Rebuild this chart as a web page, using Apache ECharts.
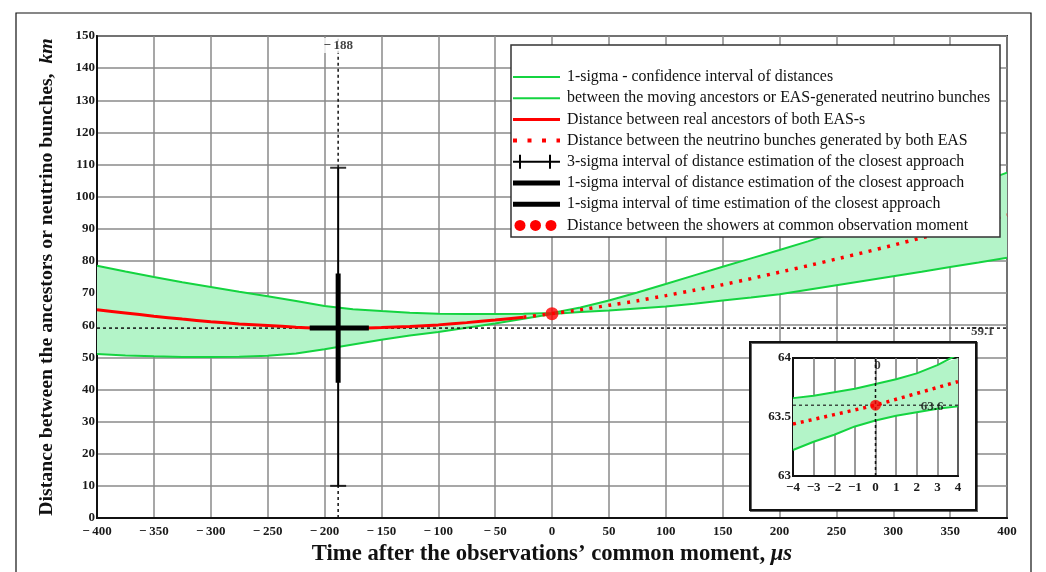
<!DOCTYPE html>
<html>
<head>
<meta charset="utf-8">
<script src="https://cdn.jsdelivr.net/npm/echarts@6/dist/echarts.min.js"></script>
<style>
html,body{margin:0;padding:0;background:#fff;}
#chart{width:1046px;height:572px;}
</style>
</head>
<body>
<div id="chart"></div>
<script>
// ---------------- DATA ----------------
const tVals = [-400,-375,-350,-325,-300,-275,-250,-225,-200,-175,-150,-125,-100,-75,-50,-25,0,25,50,75,100,125,150,175,200,225,250,275,300,325,350,375,400];
const upperVals = [78.5,76.7,75.0,73.4,71.9,70.4,69.0,67.5,66.0,65.0,64.4,63.9,63.6,63.5,63.5,63.6,63.8,65.5,67.7,70.2,72.8,75.5,78.2,80.8,83.4,86.1,89.0,91.9,94.8,97.9,101.0,104.2,107.5];
const lowerVals = [51.0,50.6,50.3,50.1,50.1,50.2,50.5,51.2,52.5,54.0,55.5,56.8,57.9,59.2,60.5,62.0,63.47,64.1,64.6,65.2,65.8,66.7,67.7,68.6,69.6,71.0,72.4,73.8,75.2,76.6,78.1,79.5,81.0];
const redVals = [64.8,63.8,62.8,61.9,61.1,60.4,59.9,59.4,59.1,59.1,59.3,59.6,60.1,60.8,61.6,62.5,63.6,64.8,66.2,67.6,69.2,70.9,72.6,74.5,76.5,78.5,80.6,82.7,84.9,87.2,89.5,91.9,94.3];
const solidEndT = -25;            // real-ancestor (solid) part ends here, dotted part starts

const closestT = -188;            // time of closest approach
const closestD = 59.1;            // closest distance
const sigma3D = [10, 109];        // 3-sigma distance interval
const sigma1D = [42.1, 76.1];     // 1-sigma distance interval
const sigma1T = [-213, -161];     // 1-sigma time interval
const commonPoint = [0, 63.6];    // distance at common observation moment
const closestLabelT = 380;        // where the 59.1 label sits

const insetT = [-4,-3,-2,-1,0,1,2,3,4];
const insetUpper = [63.66,63.68,63.71,63.74,63.78,63.82,63.87,63.94,64.03];
const insetLower = [63.22,63.29,63.35,63.42,63.47,63.51,63.54,63.57,63.59];
const insetRed = [63.44,63.48,63.52,63.56,63.60,63.65,63.70,63.75,63.80];
const insetLabelT = 2.75;

const mainXTicks = {min:-400, max:400, interval:50};
const mainYTicks = {min:0, max:150, interval:10};
const insetXTicks = {min:-4, max:4, interval:1};
const insetYTicks = {min:63, max:64, interval:0.5};

const legendLabels = [
  '1-sigma - confidence interval of distances',
  'between the moving ancestors or EAS-generated neutrino bunches',
  'Distance between real ancestors of both EAS-s',
  'Distance between the neutrino bunches generated by both EAS',
  '3-sigma interval of distance estimation of the closest approach',
  '1-sigma interval of distance estimation of the closest approach',
  '1-sigma interval of time estimation of the closest approach',
  'Distance between the showers at common observation moment'
];
const xTitle = 'Time after the observations\u2019 common moment, ';
const xTitleUnit = '\u03bcs';
const yTitle = 'Distance between the ancestors or neutrino bunches,  ';
const yTitleUnit = 'km';

// ---------------- STYLE ----------------
const SERIF = '"Liberation Serif","DejaVu Serif",serif';
const GREEN = '#14d440';
const FILL = '#b3f4c8';
const RED = '#ff0000';
const GRIDC = '#8a8a8a';

const zip = (a, b) => a.map((v, i) => [v, b[i]]);
const minusFmt = (sp) => (v) => v < 0 ? '\u2212' + sp + Math.abs(v) : String(v);

const redAll = zip(tVals, redVals);
const redSolid = redAll.filter(p => p[0] <= solidEndT);
const redDotted = redAll.filter(p => p[0] >= solidEndT);

// band polygon drawn through the axis scales
function bandRenderer(ts, ups, lows) {
  return function (params, api) {
    if (params.dataIndex !== 0) return;
    const cs = params.coordSys;
    const top = ts.map((t, i) => api.coord([t, ups[i]]));
    const bot = ts.map((t, i) => api.coord([t, lows[i]])).reverse();
    const pts = top.concat(bot).map(p => [
      Math.min(Math.max(p[0], cs.x), cs.x + cs.width),
      Math.min(Math.max(p[1], cs.y), cs.y + cs.height)
    ]);
    return {type: 'polygon', shape: {points: pts}, style: {fill: FILL}};
  };
}

const axisLabelStyle = {fontFamily: SERIF, fontWeight: 'bold', fontSize: 13, color: '#1a1a1a'};

const option = {
  animation: false,
  backgroundColor: '#ffffff',
  grid: [
    {left: 97, top: 36, width: 910, height: 482, show: true, borderColor: '#333', borderWidth: 2, backgroundColor: 'transparent', z: 0},
    {left: 793, top: 358, width: 165, height: 118, show: true, borderColor: '#111', borderWidth: 2, backgroundColor: 'transparent', z: 3}
  ],
  xAxis: [
    {
      gridIndex: 0, type: 'value', min: mainXTicks.min, max: mainXTicks.max, interval: mainXTicks.interval,
      axisLine: {show: true, onZero: false, lineStyle: {color: '#111', width: 2}},
      axisTick: {show: false},
      splitLine: {show: true, lineStyle: {color: GRIDC, width: 1.5}},
      axisLabel: Object.assign({margin: 7, formatter: minusFmt('\u2009')}, axisLabelStyle),
      name: xTitle + '{i|' + xTitleUnit + '}',
      nameLocation: 'middle', nameGap: 21,
      nameTextStyle: {fontFamily: SERIF, fontWeight: 'bold', fontSize: 22.7, color: '#111',
        rich: {i: {fontFamily: SERIF, fontWeight: 'bold', fontStyle: 'italic', fontSize: 22.7, color: '#111'}}}
    },
    {
      gridIndex: 1, type: 'value', min: insetXTicks.min, max: insetXTicks.max, interval: insetXTicks.interval, z: 3,
      axisLine: {show: true, onZero: false, lineStyle: {color: '#111', width: 2}},
      axisTick: {show: false},
      splitLine: {show: true, lineStyle: {color: '#777', width: 1.5}},
      axisLabel: Object.assign({margin: 5, formatter: minusFmt('')}, axisLabelStyle)
    }
  ],
  yAxis: [
    {
      gridIndex: 0, type: 'value', min: mainYTicks.min, max: mainYTicks.max, interval: mainYTicks.interval,
      axisLine: {show: true, onZero: false, lineStyle: {color: '#111', width: 2}},
      axisTick: {show: false},
      splitLine: {show: true, lineStyle: {color: GRIDC, width: 1.5}},
      axisLabel: Object.assign({margin: 2}, axisLabelStyle),
      name: yTitle + '{i|' + yTitleUnit + '}',
      nameLocation: 'middle', nameGap: 40, nameRotate: 90,
      nameTextStyle: {fontFamily: SERIF, fontWeight: 'bold', fontSize: 19.8, color: '#111',
        rich: {i: {fontFamily: SERIF, fontWeight: 'bold', fontStyle: 'italic', fontSize: 19.8, color: '#111'}}}
    },
    {
      gridIndex: 1, type: 'value', min: insetYTicks.min, max: insetYTicks.max, interval: insetYTicks.interval, z: 3,
      axisLine: {show: true, onZero: false, lineStyle: {color: '#111', width: 2}},
      axisTick: {show: false},
      splitLine: {show: false},
      axisLabel: Object.assign({margin: 2}, axisLabelStyle)
    }
  ],
  series: [
    // ---- main band ----
    {type: 'custom', xAxisIndex: 0, yAxisIndex: 0, data: [[tVals[0], lowerVals[0]]], renderItem: bandRenderer(tVals, upperVals, lowerVals), z: 1, silent: true},
    {type: 'line', xAxisIndex: 0, yAxisIndex: 0, data: zip(tVals, upperVals), symbol: 'none', lineStyle: {color: GREEN, width: 2}, z: 2},
    {type: 'line', xAxisIndex: 0, yAxisIndex: 0, data: zip(tVals, lowerVals), symbol: 'none', lineStyle: {color: GREEN, width: 2}, z: 2},
    // ---- closest-approach horizontal dashed ----
    {type: 'line', xAxisIndex: 0, yAxisIndex: 0, data: [[mainXTicks.min, closestD], [mainXTicks.max, closestD]], symbol: 'none',
      lineStyle: {color: '#111', width: 1.5, type: [3, 3]}, z: 3},
    // ---- red curves ----
    {type: 'line', xAxisIndex: 0, yAxisIndex: 0, data: redSolid, symbol: 'none', smooth: 0.2, lineStyle: {color: RED, width: 3}, z: 4},
    {type: 'line', xAxisIndex: 0, yAxisIndex: 0, data: redDotted, symbol: 'none', smooth: 0.2, lineStyle: {color: RED, width: 3.5, type: [3, 6.5]}, z: 4},
    // ---- vertical dashed at closest time ----
    {type: 'line', xAxisIndex: 0, yAxisIndex: 0, data: [[closestT, sigma3D[1]], [closestT, mainYTicks.max]], symbol: 'none',
      lineStyle: {color: '#111', width: 1.5, type: [3, 3]}, z: 3},
    {type: 'line', xAxisIndex: 0, yAxisIndex: 0, data: [[closestT, mainYTicks.min], [closestT, sigma3D[0]]], symbol: 'none',
      lineStyle: {color: '#111', width: 1.5, type: [3, 3]}, z: 3},
    // ---- error cross ----
    {type: 'line', xAxisIndex: 0, yAxisIndex: 0, data: [[closestT, sigma3D[0]], [closestT, sigma3D[1]]], symbol: 'none',
      lineStyle: {color: '#000', width: 2}, z: 5},
    {type: 'scatter', xAxisIndex: 0, yAxisIndex: 0, data: [[closestT, sigma3D[0]], [closestT, sigma3D[1]]], symbol: 'rect', symbolSize: [16, 2],
      itemStyle: {color: '#000'}, z: 5},
    {type: 'line', xAxisIndex: 0, yAxisIndex: 0, data: [[closestT, sigma1D[0]], [closestT, sigma1D[1]]], symbol: 'none',
      lineStyle: {color: '#000', width: 5, cap: 'butt'}, z: 5},
    {type: 'line', xAxisIndex: 0, yAxisIndex: 0, data: [[sigma1T[0], closestD], [sigma1T[1], closestD]], symbol: 'none',
      lineStyle: {color: '#000', width: 5, cap: 'butt'}, z: 5},
    // ---- labels ----
    {type: 'scatter', xAxisIndex: 0, yAxisIndex: 0, data: [[closestT, mainYTicks.max]], symbolSize: 0, z: 6,
      label: {show: true, position: 'bottom', distance: 2, formatter: () => '\u2212\u2009' + Math.abs(closestT),
        fontFamily: SERIF, fontWeight: 'bold', fontSize: 13, color: '#111', backgroundColor: '#fff', padding: [1, 0, 1, 0]}},
    {type: 'scatter', xAxisIndex: 0, yAxisIndex: 0, data: [[closestLabelT, closestD]], symbolSize: 0, z: 6,
      label: {show: true, position: 'inside', offset: [-2, 4], formatter: () => String(closestD),
        fontFamily: SERIF, fontWeight: 'bold', fontSize: 13, color: '#111'}},
    // ---- common moment point ----
    {type: 'scatter', xAxisIndex: 0, yAxisIndex: 0, data: [commonPoint], symbol: 'circle', symbolSize: 13, itemStyle: {color: RED}, z: 6},

    // ---------- INSET ----------
    {type: 'custom', xAxisIndex: 1, yAxisIndex: 1, data: [[insetT[0], insetLower[0]]], renderItem: bandRenderer(insetT, insetUpper, insetLower), z: 4, silent: true},
    {type: 'line', xAxisIndex: 1, yAxisIndex: 1, data: zip(insetT, insetUpper), symbol: 'none', lineStyle: {color: GREEN, width: 2}, z: 5, clip: true},
    {type: 'line', xAxisIndex: 1, yAxisIndex: 1, data: zip(insetT, insetLower), symbol: 'none', lineStyle: {color: GREEN, width: 2}, z: 5, clip: true},
    {type: 'line', xAxisIndex: 1, yAxisIndex: 1, data: [[insetXTicks.min, commonPoint[1]], [insetXTicks.max, commonPoint[1]]], symbol: 'none',
      lineStyle: {color: '#222', width: 1.2, type: [3, 3]}, z: 5},
    {type: 'line', xAxisIndex: 1, yAxisIndex: 1, data: [[commonPoint[0], insetYTicks.min], [commonPoint[0], insetYTicks.max]], symbol: 'none',
      lineStyle: {color: '#111', width: 1.5, type: [3, 3]}, z: 5},
    {type: 'line', xAxisIndex: 1, yAxisIndex: 1, data: zip(insetT, insetRed), symbol: 'none', lineStyle: {color: RED, width: 3.5, type: [3, 5]}, z: 6},
    {type: 'scatter', xAxisIndex: 1, yAxisIndex: 1, data: [commonPoint], symbol: 'circle', symbolSize: 11, itemStyle: {color: RED}, z: 7},
    {type: 'scatter', xAxisIndex: 1, yAxisIndex: 1, data: [[insetLabelT, commonPoint[1]]], symbolSize: 0, z: 7,
      label: {show: true, position: 'inside', offset: [0, 1], formatter: () => String(commonPoint[1]),
        fontFamily: SERIF, fontWeight: 'bold', fontSize: 13, color: '#111'}},
    {type: 'scatter', xAxisIndex: 1, yAxisIndex: 1, data: [[commonPoint[0], insetYTicks.max]], symbolSize: 0, z: 7,
      label: {show: true, position: 'bottom', distance: 1, offset: [2, 0], formatter: () => String(commonPoint[0]),
        fontFamily: SERIF, fontWeight: 'bold', fontSize: 13, color: '#111'}}
  ],
  graphic: []
};

// ---------------- GRAPHIC (frame, legend box, inset box) ----------------
const g = option.graphic;
g.push({type: 'rect', shape: {x: 16, y: 13, width: 1015, height: 600}, style: {fill: 'none', stroke: '#111', lineWidth: 1.2}, z: 0, silent: true});
// inset outer box (white, covers main grid)
g.push({type: 'rect', shape: {x: 750, y: 342, width: 226, height: 168},
  style: {fill: '#fff', stroke: '#111', lineWidth: 2, shadowColor: 'rgba(0,0,0,0.6)', shadowOffsetX: 1, shadowOffsetY: 1, shadowBlur: 0}, z: 1, silent: true});
// legend box
g.push({type: 'rect', shape: {x: 511, y: 45, width: 489, height: 192}, style: {fill: '#fff', stroke: '#333', lineWidth: 1.5}, z: 10, silent: true});
const rowY = legendLabels.map((_, i) => 77 + i * 21.2);
const sx0 = 513, sx1 = 560;
rowY.forEach((y, i) => {
  g.push({type: 'text', x: 567, y: y, z: 12, silent: true,
    style: {text: legendLabels[i], font: '15.9px ' + SERIF, fill: '#111', textVerticalAlign: 'middle', verticalAlign: 'middle'}});
  if (i === 0 || i === 1) {
    g.push({type: 'line', shape: {x1: sx0, y1: y, x2: sx1, y2: y}, style: {stroke: GREEN, lineWidth: 2}, z: 11});
  } else if (i === 2) {
    g.push({type: 'line', shape: {x1: sx0, y1: y, x2: sx1, y2: y}, style: {stroke: RED, lineWidth: 3}, z: 11});
  } else if (i === 3) {
    g.push({type: 'line', shape: {x1: sx0, y1: y, x2: sx1, y2: y}, style: {stroke: RED, lineWidth: 4, lineDash: [4, 10.5]}, z: 11});
  } else if (i === 4) {
    g.push({type: 'line', shape: {x1: sx0, y1: y, x2: sx1, y2: y}, style: {stroke: '#000', lineWidth: 2}, z: 11});
    [520, 550].forEach(x => g.push({type: 'line', shape: {x1: x, y1: y - 7, x2: x, y2: y + 7}, style: {stroke: '#000', lineWidth: 2}, z: 11}));
  } else if (i === 5 || i === 6) {
    g.push({type: 'line', shape: {x1: sx0, y1: y, x2: sx1, y2: y}, style: {stroke: '#000', lineWidth: 5}, z: 11});
  } else {
    [520, 535.5, 551].forEach(x => g.push({type: 'circle', shape: {cx: x, cy: y, r: 5.5}, style: {fill: RED}, z: 11}));
  }
});

const chart = echarts.init(document.getElementById('chart'), null, {renderer: 'canvas'});
chart.setOption(option);
</script>
</body>
</html>
